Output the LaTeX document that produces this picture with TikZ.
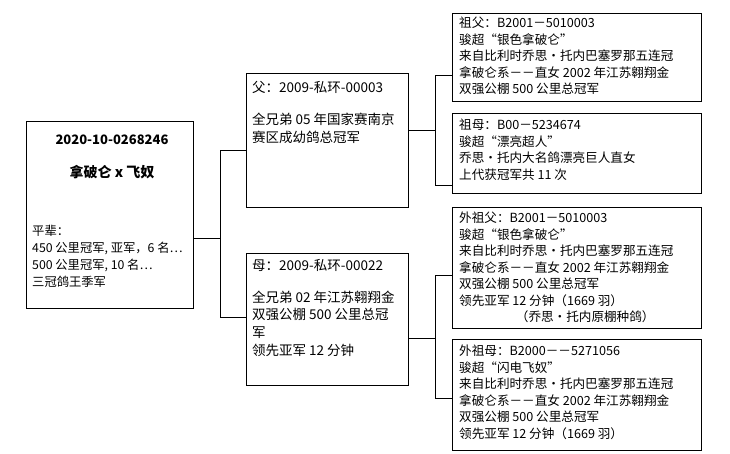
\documentclass[tikz,border=0pt]{standalone}
\usepackage{fontspec}
\setmainfont{Noto Sans CJK SC}
\begin{document}
\begin{tikzpicture}[x=1pt,y=-1pt,
  box/.style={draw,line width=0.8pt,anchor=north west,inner sep=0},
  txt/.style={anchor=north west,inner sep=0,align=left,font=\fontsize{13.5}{17.8}\selectfont},
  stxt/.style={anchor=north west,inner sep=0,align=left,font=\fontsize{12.6}{16.5}\selectfont},
  ln/.style={line width=0.8pt}]
\useasboundingbox (0,0) rectangle (730,453);
\fill[white] (0,0) rectangle (730,453);
% boxes
\node[box,minimum width=167pt,minimum height=187pt] (m) at (26,121) {};
\node[box,minimum width=162pt,minimum height=134pt] (f) at (246,73) {};
\node[box,minimum width=162pt,minimum height=132pt] (mo) at (246,253) {};
\node[box,minimum width=249pt,minimum height=88pt] (gf) at (452,13) {};
\node[box,minimum width=249pt,minimum height=80pt] (gm) at (452,113) {};
\node[box,minimum width=249pt,minimum height=121pt] (mgf) at (452,207) {};
\node[box,minimum width=249pt,minimum height=111pt] (mgm) at (452,339) {};
% texts
\node[anchor=center,inner sep=0,font=\fontsize{13}{14}\selectfont\bfseries] (mt1) at (112,140) {2020-10-0268246};
\node[anchor=center,inner sep=0,font=\fontsize{14}{14}\selectfont\bfseries] (mt2) at (112,172) {拿破仑 x 飞奴};
\node[anchor=north west,inner sep=0,align=left,font=\fontsize{12.3}{17}\selectfont] (mt3) at (32,225) {平辈：\\450 公里冠军, 亚军，6 名…\\500 公里冠军, 10 名…\\三冠鸽王季军};
\node[txt] (ft) at (252,81) {父：2009-私环-00003\\[14pt]全兄弟 05 年国家赛南京\\赛区成幼鸽总冠军};
\node[txt] (mot) at (252,259) {母：2009-私环-00022\\[14pt]全兄弟 02 年江苏翱翔金\\双强公棚 500 公里总冠\\军\\领先亚军 12 分钟};
\node[stxt] (gft) at (459,17) {祖父：B2001－5010003\\骏超“银色拿破仑”\\来自比利时乔思·托内巴塞罗那五连冠\\拿破仑系－－直女 2002 年江苏翱翔金\\双强公棚 500 公里总冠军};
\node[stxt] (gmt) at (459,119) {祖母：B00－5234674\\骏超“漂亮超人”\\乔思·托内大名鸽漂亮巨人直女\\上代获冠军共 11 次};
\node[stxt] (mgft) at (459,212) {外祖父：B2001－5010003\\骏超“银色拿破仑”\\来自比利时乔思·托内巴塞罗那五连冠\\拿破仑系－－直女 2002 年江苏翱翔金\\双强公棚 500 公里总冠军\\领先亚军 12 分钟（1669 羽）\\\hspace*{4.5em}（乔思·托内原棚种鸽）};
\node[stxt] (mgmt) at (459,345) {外祖母：B2000－－5271056\\骏超“闪电飞奴”\\来自比利时乔思·托内巴塞罗那五连冠\\拿破仑系－－直女 2002 年江苏翱翔金\\双强公棚 500 公里总冠军\\领先亚军 12 分钟（1669 羽）};
% connectors
\coordinate (j1) at (220,238);
\draw[ln] (m.east |- j1) -- (j1);
\draw[ln] (f.west |- 0,150) -| (220,317) -- (mo.west |- 0,317);
\draw[ln] (f.east |- 0,130) -- (435,130);
\draw[ln] (gf.west |- 0,75) -| (435,185) -- (gm.west |- 0,185);
\draw[ln] (mo.east |- 0,338) -- (435,338);
\draw[ln] (mgf.west |- 0,275) -| (435,398) -- (mgm.west |- 0,398);
\end{tikzpicture}
\end{document}
